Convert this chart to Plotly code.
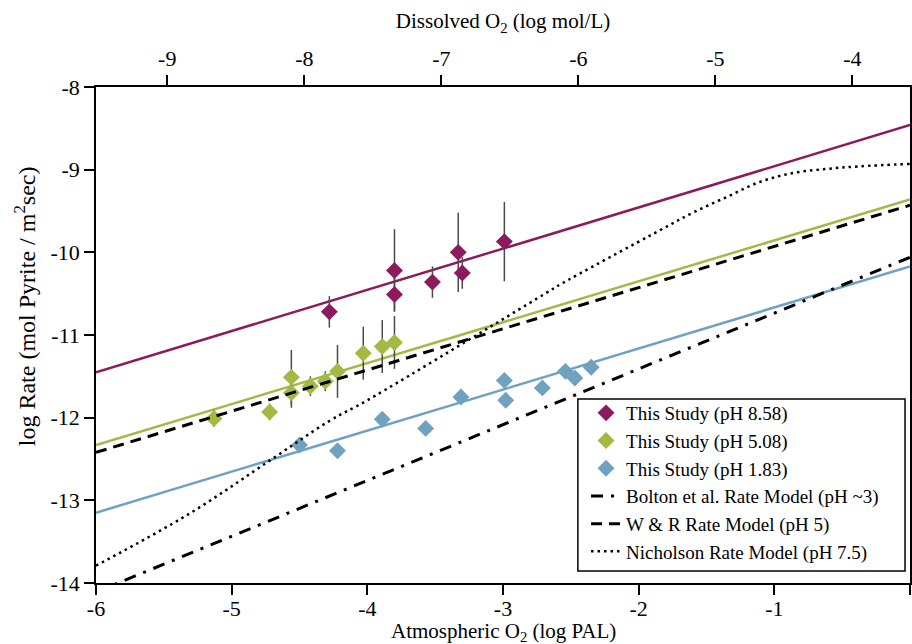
import plotly.graph_objects as go

# ---------------- data ----------------
# This Study (pH 8.58)
p858_x = [-4.28, -3.80, -3.80, -3.52, -3.33, -3.30, -2.99]
p858_y = [-10.72, -10.22, -10.51, -10.36, -10.00, -10.25, -9.87]
p858_err = [0.19, 0.50, 0.20, 0.19, 0.48, 0.19, 0.48]

# This Study (pH 5.08)
p508_x = [-5.13, -4.72, -4.56, -4.56, -4.42, -4.31, -4.22, -4.03, -3.89, -3.80]
p508_y = [-12.01, -11.93, -11.51, -11.70, -11.62, -11.56, -11.44, -11.22, -11.14, -11.09]
p508_err = [0.10, 0.10, 0.33, 0.18, 0.12, 0.12, 0.32, 0.32, 0.32, 0.32]

# This Study (pH 1.83)
p183_x = [-4.50, -4.22, -3.89, -3.57, -3.31, -2.99, -2.98, -2.71, -2.54, -2.47, -2.35]
p183_y = [-12.33, -12.40, -12.02, -12.13, -11.75, -11.55, -11.79, -11.64, -11.44, -11.52, -11.39]
p183_err = [0.09, 0.08, 0.08, 0.08, 0.08, 0.08, 0.08, 0.08, 0.07, 0.07, 0.07]

# fitted lines (endpoints at x = -6 and x = 0)
fit_x = [-6, 0]
fit858_y = [-11.45, -8.46]
fit508_y = [-12.33, -9.36]
fit183_y = [-13.15, -10.17]

# model curves
bolton_x = [-6, 0]
bolton_y = [-14.11, -10.06]
wr_x = [-6, 0]
wr_y = [-12.42, -9.43]
nich_x = [-6.00, -5.31, -4.72, -4.28, -4.00, -2.65, -2.58, -1.84, -1.60, -1.35, -1.11, -0.86, -0.61, -0.37, 0.00]
nich_y = [-13.79, -13.16, -12.52, -12.04, -11.79, -10.46, -10.39, -9.73, -9.52, -9.33, -9.15, -9.04, -8.99, -8.96, -8.93]

# ticks
x_ticks = [-6, -5, -4, -3, -2, -1, 0]
x_ticklabels = ["-6", "-5", "-4", "-3", "-2", "-1", "0"]
top_ticks = [-9, -8, -7, -6, -5, -4]
top_ticklabels = ["-9", "-8", "-7", "-6", "-5", "-4"]
top_range = [-9.52, -3.58]
y_ticks = [-14, -13, -12, -11, -10, -9, -8]
y_ticklabels = ["-14", "-13", "-12", "-11", "-10", "-9", "-8"]

# ---------------- style ----------------
PURPLE = "#8B1A5E"
GREEN = "#A2B944"
BLUE = "#70A2C0"
FONT = "Liberation Serif"
ERRC = "#4a4a4a"

fig = go.Figure()

# fitted lines (drawn beneath)
for yy, c in [(fit858_y, PURPLE), (fit508_y, GREEN), (fit183_y, BLUE)]:
    fig.add_trace(go.Scatter(x=fit_x, y=yy, mode="lines", line=dict(color=c, width=2.5),
                             showlegend=False, hoverinfo="skip"))

# data
for xx, yy, ee, c, name in [
    (p858_x, p858_y, p858_err, PURPLE, "This Study (pH 8.58)"),
    (p508_x, p508_y, p508_err, GREEN, "This Study (pH 5.08)"),
    (p183_x, p183_y, p183_err, BLUE, "This Study (pH 1.83)"),
]:
    fig.add_trace(go.Scatter(
        x=xx, y=yy, mode="markers", name=name, legendgroup=name,
        marker=dict(symbol="diamond", size=13, color=c, line=dict(width=0)),
        error_y=dict(type="data", array=ee, visible=True, color=ERRC, thickness=1.5, width=0),
    ))

fig.add_trace(go.Scatter(x=bolton_x, y=bolton_y, mode="lines", name="Bolton et al. Rate Model (pH ~3)",
                         legendgroup="b",
                         line=dict(color="black", width=3, dash="12px,8px,3px,8px")))
fig.add_trace(go.Scatter(x=wr_x, y=wr_y, mode="lines", name="W & R Rate Model (pH 5)",
                         legendgroup="w",
                         line=dict(color="black", width=3, dash="11px,7px")))
fig.add_trace(go.Scatter(x=nich_x, y=nich_y, mode="lines", name="Nicholson Rate Model (pH 7.5)",
                         legendgroup="n",
                         line=dict(color="black", width=2.5, dash="2.5px,4px", shape="spline")))

# invisible trace to activate the top axis
fig.add_trace(go.Scatter(x=top_range, y=[None, None], xaxis="x2", mode="lines",
                         showlegend=False, hoverinfo="skip"))

axis_common = dict(showgrid=False, zeroline=False, showline=True, linecolor="black", linewidth=1.5,
                   ticks="outside", ticklen=10, tickwidth=1.5, tickcolor="black", automargin=False,
                   tickfont=dict(family=FONT, size=22, color="black"))

fig.update_layout(
    width=912, height=644,
    margin=dict(l=96, r=2, t=87, b=61),
    paper_bgcolor="white", plot_bgcolor="white",
    font=dict(family=FONT, color="black"),
    xaxis=dict(range=[-6, 0], tickvals=x_ticks, ticktext=x_ticklabels, ticklabelstandoff=-5,
               **axis_common),
    xaxis2=dict(range=top_range, overlaying="x", side="top", anchor="y",
                tickvals=top_ticks, ticktext=top_ticklabels,
                title=dict(text="Dissolved O<sub>2</sub> (log mol/L)", font=dict(family=FONT, size=21), standoff=12),
                **axis_common),
    yaxis=dict(range=[-14, -8], tickvals=y_ticks, ticktext=y_ticklabels, mirror=True,
               **axis_common),
    legend=dict(x=0.602, y=0.381, xanchor="left", yanchor="top",
                bgcolor="rgba(0,0,0,0)", borderwidth=0,
                font=dict(family=FONT, size=19, color="black"),
                traceorder="grouped", tracegroupgap=0),
    showlegend=True,
    shapes=[dict(type="rect", xref="paper", yref="paper", x0=0.592, x1=0.9939, y0=0.0242, y1=0.371,
                 fillcolor="white", line=dict(color="black", width=1.5), layer="above")],
    annotations=[
        dict(text="log Rate (mol Pyrite / m<sup>2</sup>sec)", textangle=-90,
             xref="paper", yref="paper", x=0, y=0.558, xanchor="center", yanchor="middle",
             xshift=-71, showarrow=False, font=dict(family=FONT, size=24, color="black")),
        dict(text="Atmospheric O<sub>2</sub> (log PAL)",
             xref="paper", yref="paper", x=0.5, y=0, xanchor="center", yanchor="middle",
             yshift=-49, showarrow=False, font=dict(family=FONT, size=21, color="black")),
    ],
)

fig.write_html("out.html", config={"displayModeBar": False},
               post_script="document.body.style.margin='0';document.body.style.overflow='hidden';")
